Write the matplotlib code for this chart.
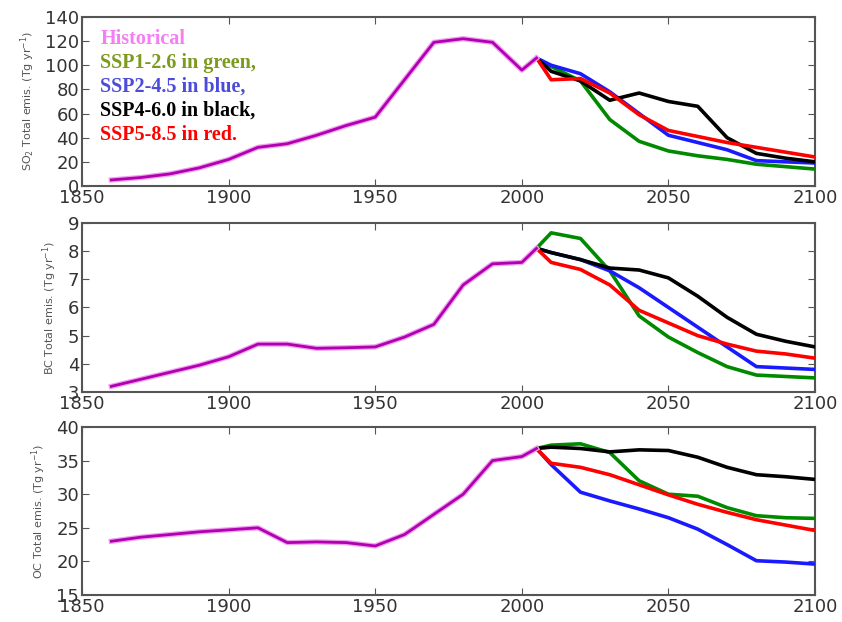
import matplotlib
matplotlib.use("Agg")
import matplotlib.pyplot as plt

hist_years = [1860, 1870, 1880, 1890, 1900, 1910, 1920, 1930, 1940, 1950,
              1960, 1970, 1980, 1990, 2000, 2005]
ssp_years = [2005, 2010, 2020, 2030, 2040, 2050, 2060, 2070, 2080, 2090, 2100]

so2_hist = [5, 7, 10, 15, 22, 32, 35, 42, 50, 57, 88, 119, 122, 119, 96, 106]
so2_ssp126 = [106, 99, 87, 55, 37, 29, 25, 22, 18, 16, 14]
so2_ssp245 = [106, 100, 93, 78, 60, 42, 36, 30, 21, 20, 19]
so2_ssp460 = [106, 95, 87, 71, 77, 70, 66, 40, 27, 23, 20]
so2_ssp585 = [106, 88, 89, 77, 59, 46, 41, 36, 32, 28, 24]

bc_hist = [3.2, 3.45, 3.7, 3.95, 4.25, 4.7, 4.7, 4.55, 4.57, 4.6,
           4.95, 5.4, 6.8, 7.55, 7.6, 8.1]
bc_ssp126 = [8.1, 8.65, 8.45, 7.3, 5.7, 4.95, 4.4, 3.9, 3.6, 3.55, 3.5]
bc_ssp245 = [8.1, 7.95, 7.7, 7.3, 6.7, 6.0, 5.3, 4.6, 3.9, 3.85, 3.8]
bc_ssp460 = [8.1, 7.95, 7.7, 7.4, 7.33, 7.05, 6.4, 5.65, 5.05, 4.8, 4.6]
bc_ssp585 = [8.1, 7.6, 7.35, 6.8, 5.9, 5.45, 5.0, 4.7, 4.45, 4.35, 4.2]

oc_hist = [23, 23.6, 24, 24.4, 24.7, 25, 22.8, 22.9, 22.8, 22.3,
           24, 27, 30, 35, 35.6, 36.8]
oc_ssp126 = [36.8, 37.3, 37.5, 36.2, 32.0, 30.0, 29.7, 28.0, 26.8, 26.5, 26.4]
oc_ssp245 = [36.8, 34.4, 30.3, 29.0, 27.8, 26.5, 24.8, 22.5, 20.1, 19.9, 19.6]
oc_ssp460 = [36.8, 37.0, 36.8, 36.3, 36.6, 36.5, 35.5, 34.0, 32.9, 32.6, 32.2]
oc_ssp585 = [36.8, 34.6, 34.0, 32.9, 31.4, 29.9, 28.5, 27.3, 26.2, 25.4, 24.6]

ylabels = ["SO$_2$ Total emis. (Tg yr$^{-1}$)",
           "BC Total emis. (Tg yr$^{-1}$)",
           "OC Total emis. (Tg yr$^{-1}$)"]
ylims = [(0, 140), (3, 9), (15, 40)]
yticks = [list(range(0, 141, 20)), list(range(3, 10)), list(range(15, 41, 5))]
xticks = [1850, 1900, 1950, 2000, 2050, 2100]

legend_texts = ["Historical", "SSP1-2.6 in green,", "SSP2-4.5 in blue,",
                "SSP4-6.0 in black,", "SSP5-8.5 in red."]
legend_colors = ["#f57ef5", "#7c9a1e", "#4b4bdc", "#000000", "#ff0000"]

panels = [
    (so2_hist, so2_ssp126, so2_ssp245, so2_ssp460, so2_ssp585),
    (bc_hist, bc_ssp126, bc_ssp245, bc_ssp460, bc_ssp585),
    (oc_hist, oc_ssp126, oc_ssp245, oc_ssp460, oc_ssp585),
]

fig = plt.figure(figsize=(8.42, 6.22), dpi=100)
left, width = 0.0974, 0.8706
boxes = [(0.701, 0.2717), (0.3698, 0.2717), (0.0434, 0.2701)]

lw = 2.6
for i, (data, (b, h)) in enumerate(zip(panels, boxes)):
    ax = fig.add_axes([left, b, width, h])
    hist, s1, s2, s4, s5 = data
    ax.plot(ssp_years, s1, color="#008a00", lw=lw, zorder=3)
    ax.plot(ssp_years, s2, color="#1a1aff", lw=lw, zorder=3)
    ax.plot(ssp_years, s4, color="#000000", lw=lw, zorder=4)
    ax.plot(ssp_years, s5, color="#ff0000", lw=lw, zorder=4)
    ax.plot(hist_years, hist, color="#f0a0f0", lw=lw + 1.2, zorder=4)
    ax.plot(hist_years, hist, color="#b000b0", lw=lw - 0.6, zorder=5)
    ax.set_xlim(1850, 2100)
    ax.set_ylim(*ylims[i])
    ax.set_xticks(xticks)
    ax.set_yticks(yticks[i])
    ax.tick_params(direction="in", top=True, right=True, labelsize=13,
                   labelcolor="#333333", color="#555555", length=5, pad=2)
    for sp in ax.spines.values():
        sp.set_color("#555555")
        sp.set_linewidth(1.5)
    ax.set_ylabel(ylabels[i], fontsize=8, color="#555555", labelpad=6)
    if i == 0:
        for j, (t, c) in enumerate(zip(legend_texts, legend_colors)):
            ax.text(0.025, 0.87 - j * 0.142, t, transform=ax.transAxes,
                    color=c, fontsize=14.5, fontweight="bold",
                    family="Liberation Serif", va="center", ha="left")

fig.savefig("out.png", dpi=100)
